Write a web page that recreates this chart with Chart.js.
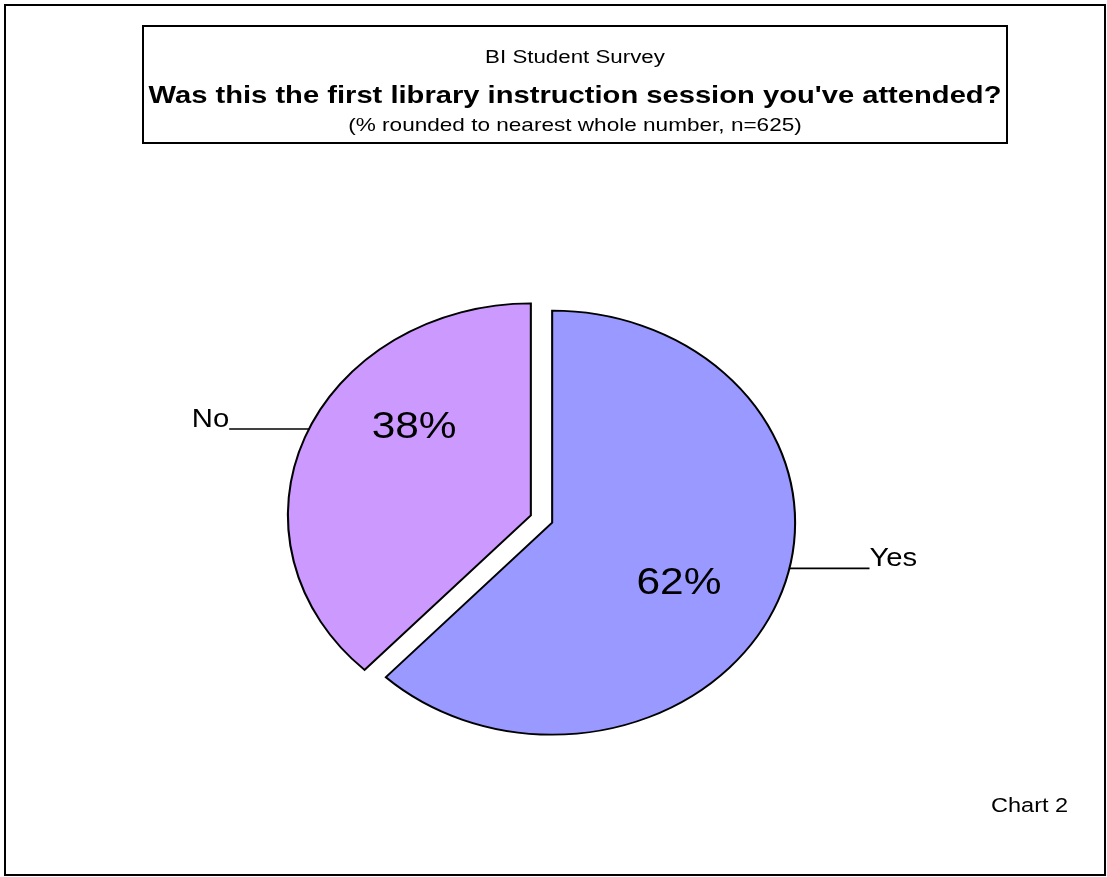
<!DOCTYPE html>
<html>
<head>
<meta charset="utf-8">
<script src="https://cdn.jsdelivr.net/npm/chart.js@4.4.0/dist/chart.umd.min.js"></script>
<style>
  html, body { margin: 0; padding: 0; background: #fff; }
  #wrap { position: relative; width: 1107px; height: 877px; }
</style>
</head>
<body>
<div id="wrap"><canvas id="pie-chart" width="1107" height="877"></canvas></div>
<script>
// data
const categories = ['Yes', 'No'];
const percents = [62, 38];
const sliceColors = ['#9999FF', '#CC99FF'];

const surveyName = 'BI Student Survey';
const question = "Was this the first library instruction session you've attended?";
const note = '(% rounded to nearest whole number, n=625)';
const chartTag = 'Chart 2';

const FONT = '"Liberation Sans", Arial, sans-serif';
const SX = 1.146;      // pie is drawn as an ellipse, wider than tall
const TSX = 1.22;      // title text is stretched a bit too
const EXPLODE = 10;

// per slice label placement (Yes, No): angle shift from bisector, fraction of radius
const pctShift = [0.108, 0.348];
const pctFrac = [0.59, 0.642];
const leaderShift = [-0.162, 0.045];
const leaderLen = 80;

function stretchedText(ctx, str, x, y, font, align, sx) {
    ctx.save();
    ctx.translate(x, y);
    ctx.scale(sx, 1);
    ctx.font = font;
    ctx.textAlign = align;
    ctx.fillStyle = '#000';
    ctx.fillText(str, 0, 0);
    ctx.restore();
}

const framePlugin = {
    id: 'frame',
    beforeDraw(chart) {
        const ctx = chart.ctx;
        ctx.save();
        ctx.fillStyle = '#fff';
        ctx.fillRect(0, 0, chart.width, chart.height);
        ctx.strokeStyle = '#000';
        ctx.lineWidth = 2;
        ctx.strokeRect(5, 5, 1100, 870);
        ctx.strokeRect(143, 26, 864, 117);
        ctx.textBaseline = 'alphabetic';
        stretchedText(ctx, surveyName, 575, 63, '18.3px ' + FONT, 'center', TSX);
        stretchedText(ctx, question, 575, 103, 'bold 23.9px ' + FONT, 'center', TSX);
        stretchedText(ctx, note, 575, 131, '18.5px ' + FONT, 'center', TSX);
        stretchedText(ctx, chartTag, 991, 812, '19.3px ' + FONT, 'left', TSX);
        ctx.restore();
    }
};

const ellipsePlugin = {
    id: 'ellipsePie',
    afterUpdate(chart) {
        chart.getDatasetMeta(0).data.forEach(arc => {
            const mid = (arc.startAngle + arc.endAngle) / 2;
            arc.x += Math.cos(mid) * EXPLODE;
            arc.y += Math.sin(mid) * EXPLODE;
        });
    },
    beforeDatasetsDraw(chart) {
        const {ctx, chartArea} = chart;
        const cx = (chartArea.left + chartArea.right) / 2;
        const cy = (chartArea.top + chartArea.bottom) / 2;
        ctx.save();
        ctx.translate(cx, cy);
        ctx.scale(SX, 1);
        ctx.translate(-cx, -cy);
    },
    afterDatasetsDraw(chart) {
        const {ctx, chartArea} = chart;
        ctx.restore();
        const cx = (chartArea.left + chartArea.right) / 2;
        const toScreen = (x, y) => [cx + SX * (x - cx), y];

        chart.getDatasetMeta(0).data.forEach((arc, i) => {
            const mid = (arc.startAngle + arc.endAngle) / 2;
            const R = arc.outerRadius;

            // percentage inside the slice
            const a = mid + pctShift[i];
            const r = R * pctFrac[i];
            const [px, py] = toScreen(arc.x + r * Math.cos(a), arc.y + r * Math.sin(a));
            ctx.save();
            ctx.textBaseline = 'middle';
            stretchedText(ctx, percents[i] + '%', px, py + 3, '37px ' + FONT, 'center', SX);
            ctx.restore();

            // category label with leader line
            const b = mid + leaderShift[i];
            const [lx, ly] = toScreen(arc.x + R * Math.cos(b), arc.y + R * Math.sin(b));
            const dir = Math.cos(b) < 0 ? -1 : 1;
            const ex = lx + dir * leaderLen;
            ctx.save();
            ctx.strokeStyle = '#000';
            ctx.lineWidth = 1.6;
            ctx.beginPath();
            ctx.moveTo(lx, ly + 0.5);
            ctx.lineTo(ex, ly + 0.5);
            ctx.stroke();
            ctx.textBaseline = 'alphabetic';
            stretchedText(ctx, categories[i], ex, ly - 1.5, '25.5px ' + FONT, dir < 0 ? 'right' : 'left', SX);
            ctx.restore();
        });
    }
};

new Chart(document.getElementById('pie-chart'), {
    type: 'pie',
    data: {
        labels: categories,
        datasets: [{
            data: percents,
            backgroundColor: sliceColors,
            borderColor: '#000',
            borderWidth: 1.8,
            borderJoinStyle: 'miter',
            radius: 212
        }]
    },
    options: {
        responsive: false,
        animation: false,
        events: [],
        layout: { padding: { left: 0, right: 24, top: 161, bottom: 0 } },
        plugins: {
            legend: { display: false },
            tooltip: { enabled: false },
            title: { display: false }
        }
    },
    plugins: [framePlugin, ellipsePlugin]
});
</script>
</body>
</html>
